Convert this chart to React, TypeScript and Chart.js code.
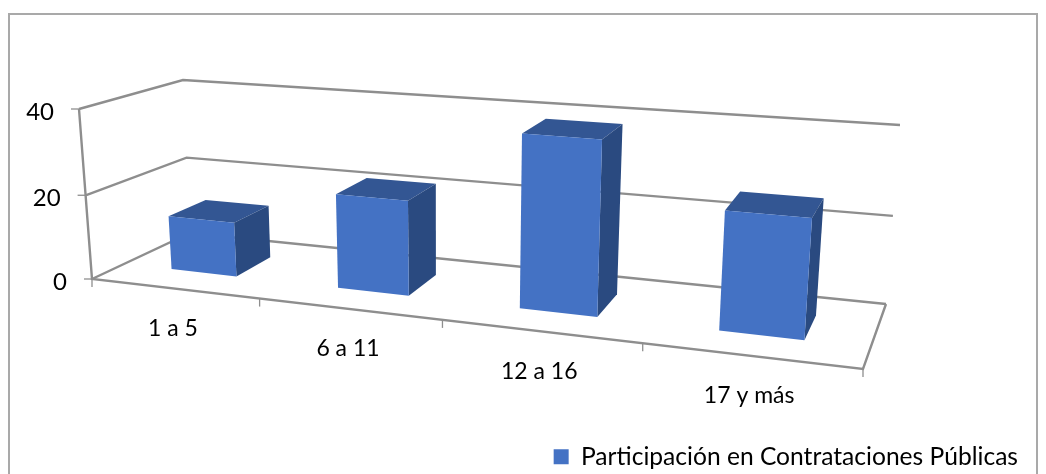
import React, { useEffect, useRef } from "react";
import { Chart, registerables } from "chart.js";

Chart.register(...registerables);

const categories = ["1 a 5", "6 a 11", "12 a 16", "17 y más"];
const seriesLabel = "Participación en Contrataciones Públicas";
const seriesValues = [13, 22, 39, 26];
const yTicks = [0, 20, 40];

const FONT = "Lato, 'Open Sans', sans-serif";
const LINE = "#8E8E8E";
const FRONT = "#4472C4";
const TOP = "#335693";
const SIDE = "#2A4A80";

// Picture of the 3-D box: corners on screen of the two walls
type P = [number, number];
const F_BL: P = [92, 279], F_BR: P = [863, 369], F_TL: P = [79, 109], F_TR: P = [877, 170];
const B_BL: P = [190, 233], B_BR: P = [886, 304], B_TL: P = [183, 80], B_TR: P = [900, 125];
const PERSPECTIVE = 1.2;
const PERSPECTIVE_V = 1.03;
const BAR_DEPTH_FRONT = 0.33;
const BAR_DEPTH_BACK = 0.72;

const lerp = (a: P, b: P, t: number): P => [a[0] + (b[0] - a[0]) * t, a[1] + (b[1] - a[1]) * t];
const persp = (u: number, k: number) => u / (u + k * (1 - u));

// u: 0..1 along the category axis, v: 0..1 along the value axis, d: 0 front, 1 back
function project(u: number, v: number, d: number): P {
  const f = persp(u, PERSPECTIVE);
  const g = persp(v, PERSPECTIVE_V);
  const front = lerp(lerp(F_BL, F_BR, f), lerp(F_TL, F_TR, f), g);
  const back = lerp(lerp(B_BL, B_BR, f), lerp(B_TL, B_TR, f), g);
  return lerp(front, back, d);
}

function poly(ctx: CanvasRenderingContext2D, pts: P[], fill: string) {
  ctx.beginPath();
  pts.forEach((p, i) => (i ? ctx.lineTo(p[0], p[1]) : ctx.moveTo(p[0], p[1])));
  ctx.closePath();
  ctx.fillStyle = fill;
  ctx.fill();
}

function seg(ctx: CanvasRenderingContext2D, pts: P[], w = 2.4) {
  ctx.beginPath();
  pts.forEach((p, i) => (i ? ctx.lineTo(p[0], p[1]) : ctx.moveTo(p[0], p[1])));
  ctx.lineWidth = w;
  ctx.strokeStyle = LINE;
  ctx.stroke();
}

const box3d = {
  id: "box3d",
  beforeDatasetsDraw(chart: any) {
    const { ctx, chartArea: ca, scales } = chart;
    const yS = scales.y;
    const xS = scales.x;
    const V = (val: number) => (yS.bottom - yS.getPixelForValue(val)) / (yS.bottom - yS.top);
    ctx.save();
    // frame of the chart
    ctx.strokeStyle = "#A9A9A9";
    ctx.lineWidth = 2;
    ctx.strokeRect(9, 14, 1028, 520);

    // walls: side wall + back wall gridlines + floor
    yTicks.forEach((t) => {
      const v = V(t);
      seg(ctx, [project(0, v, 0), project(0, v, 1), project(1, v, 1)]);
      const p = project(0, v, 0);
      seg(ctx, [[p[0] - 8, p[1]], p], 1.3);
      ctx.fillStyle = "#000";
      ctx.font = `24px ${FONT}`;
      ctx.textAlign = "right";
      ctx.textBaseline = "middle";
      ctx.fillText(String(t), p[0] - 25, p[1] + 3);
    });
    seg(ctx, [project(0, 1, 0), project(0, 0, 0), project(1, 0, 0), project(1, 0, 1)]);

    // category ticks and labels
    const n = categories.length;
    const width = ca.right - ca.left;
    for (let i = 0; i <= n; i++) {
      const p = project(i / n, 0, 0);
      seg(ctx, [p, [p[0], p[1] + 8]], 1.3);
    }
    categories.forEach((c, i) => {
      const u = (xS.getPixelForValue(i) - ca.left) / width;
      const p = project(u, 0, 0);
      ctx.fillStyle = "#000";
      ctx.font = `23px ${FONT}`;
      ctx.textAlign = "center";
      ctx.textBaseline = "middle";
      ctx.fillText(c, p[0] - 1, p[1] + 40);
    });
    ctx.restore();
  },
  beforeDatasetDraw(chart: any, args: any) {
    const { ctx, chartArea: ca, scales } = chart;
    const yS = scales.y;
    const width = ca.right - ca.left;
    const meta = chart.getDatasetMeta(args.index);
    ctx.save();
    meta.data.forEach((bar: any) => {
      const { x, y, width: w } = bar.getProps(["x", "y", "width"], true);
      const u0 = (x - w / 2 - ca.left) / width;
      const u1 = (x + w / 2 - ca.left) / width;
      const v = (yS.bottom - y) / (yS.bottom - yS.top);
      const fbl = project(u0, 0, BAR_DEPTH_FRONT);
      const fbr = project(u1, 0, BAR_DEPTH_FRONT);
      const ftl = project(u0, v, BAR_DEPTH_FRONT);
      const ftr = project(u1, v, BAR_DEPTH_FRONT);
      const bbr = project(u1, 0, BAR_DEPTH_BACK);
      const btr = project(u1, v, BAR_DEPTH_BACK);
      const btl = project(u0, v, BAR_DEPTH_BACK);
      poly(ctx, [ftl, ftr, btr, btl], TOP);
      poly(ctx, [fbr, ftr, btr, bbr], SIDE);
      poly(ctx, [fbl, fbr, ftr, ftl], FRONT);
    });
    ctx.restore();
    return false;
  },
};

export default function App() {
  const ref = useRef<HTMLCanvasElement>(null);
  useEffect(() => {
    const chart = new Chart(ref.current!, {
      type: "bar",
      data: {
        labels: categories,
        datasets: [
          {
            label: seriesLabel,
            data: seriesValues,
            backgroundColor: FRONT,
            borderWidth: 0,
            categoryPercentage: 0.4,
            barPercentage: 1,
          },
        ],
      },
      options: {
        animation: false,
        responsive: false,
        layout: { padding: { left: 90, right: 28, top: 100, bottom: -5 } },
        scales: {
          x: { display: false },
          y: { display: false, min: 0, max: 40, ticks: { stepSize: 20 } },
        },
        plugins: {
          tooltip: { enabled: false },
          legend: {
            position: "bottom",
            align: "end",
            labels: {
              boxWidth: 15,
              boxHeight: 15,
              padding: 0,
              color: "#000",
              font: { family: FONT, size: 24.6 },
            },
          },
        },
      },
      plugins: [box3d],
    } as any);
    return () => chart.destroy();
  }, []);
  return (
    <div style={{ position: "fixed", left: 0, top: 0, width: 1046, height: 474, background: "#fff" }}>
      <canvas ref={ref} width={1046} height={474} style={{ display: "block" }} />
    </div>
  );
}
